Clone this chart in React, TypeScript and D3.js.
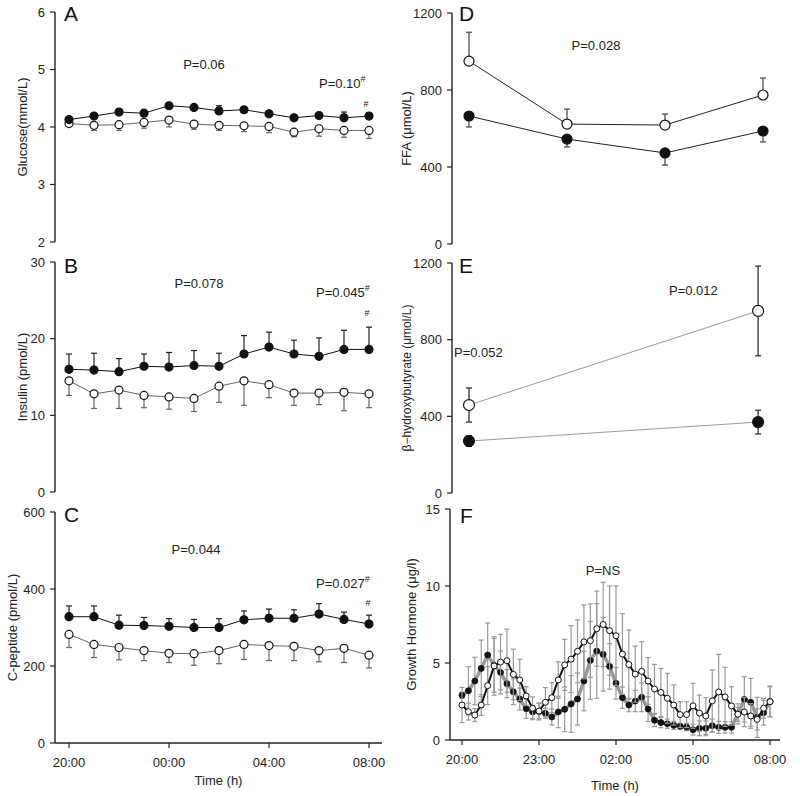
import * as d3 from 'd3';

const FONT = 'Arial, "Liberation Sans", sans-serif';

// hourly samples, 20:00 .. 08:00 (hours after 20:00)
const hourly = [0, 1, 2, 3, 4, 5, 6, 7, 8, 9, 10, 11, 12];
const hourlyTicks = [0, 4, 8, 12];
const hourlyLabels = ['20:00', '00:00', '04:00', '08:00'];

const glucoseFilled = [4.13, 4.19, 4.26, 4.24, 4.37, 4.34, 4.28, 4.3, 4.23, 4.16, 4.2, 4.16, 4.19];
const glucoseFilledErr = [0.03, 0.03, 0.04, 0.04, 0.04, 0.05, 0.09, 0.05, 0.05, 0.05, 0.05, 0.1, 0.05];
const glucoseOpen = [4.06, 4.03, 4.04, 4.08, 4.12, 4.05, 4.03, 4.02, 4.01, 3.91, 3.97, 3.94, 3.94];
const glucoseOpenErr = [0.03, 0.09, 0.1, 0.1, 0.12, 0.09, 0.09, 0.1, 0.11, 0.08, 0.13, 0.12, 0.14];

const insulinFilled = [16.0, 15.9, 15.7, 16.4, 16.3, 16.5, 16.4, 18.0, 18.9, 18.0, 17.7, 18.6, 18.6];
const insulinFilledErr = [2.0, 2.2, 1.7, 1.6, 1.9, 1.95, 1.7, 2.4, 1.95, 1.8, 2.4, 2.5, 2.9];
const insulinOpen = [14.5, 12.8, 13.3, 12.6, 12.4, 12.2, 13.8, 14.5, 14.0, 12.9, 12.9, 13.0, 12.8];
const insulinOpenErr = [1.9, 1.9, 2.4, 1.6, 1.6, 1.7, 2.1, 3.2, 1.7, 1.6, 1.5, 2.4, 1.8];

const cpepFilled = [328, 328, 306, 305, 303, 300, 300, 320, 324, 324, 335, 321, 309];
const cpepFilledErr = [28, 28, 26, 21, 20, 21, 23, 23, 24, 22, 27, 19, 23];
const cpepOpen = [282, 256, 248, 240, 233, 232, 240, 256, 253, 251, 240, 246, 228];
const cpepOpenErr = [34, 34, 32, 26, 24, 30, 34, 39, 39, 37, 29, 37, 33];

const ffaTimes = [0, 4, 8, 12];
const ffaOpen = [950, 623, 618, 774];
const ffaOpenErr = [150, 78, 57, 88];
const ffaFilled = [665, 545, 473, 587];
const ffaFilledErr = [57, 41, 63, 57];

const bhbTimes = [0, 11.8];
const bhbOpen = [459, 950];
const bhbOpenErr = [89, 234];
const bhbFilled = [271, 370];
const bhbFilledErr = [28, 62];

// growth hormone, every 15 min
const ghTimes = d3.range(49).map((i) => i * 0.25);
const ghTicks = [0, 3, 6, 9, 12];
const ghLabels = ['20:00', '23:00', '02:00', '05:00', '08:00'];
const ghFilled = [
  2.9, 3.2, 3.83, 4.65, 5.52, 4.85, 4.39, 3.66, 3.14, 2.66, 2.03, 1.82, 1.85,
  1.73, 1.49, 1.82, 1.99, 2.34, 2.66, 3.83, 5.17, 5.78, 5.56, 4.78, 3.68,
  2.75, 2.27, 2.53, 2.77, 2.01, 1.28, 1.13, 1.06, 0.95, 0.89, 0.84, 0.67,
  0.76, 0.76, 0.93, 0.82, 0.82, 0.82, 1.7, 2.64, 2.45, 1.47, 1.77, 2.5,
];
const ghFilledErr = [
  0.2, 1.56, 1.54, 1.84, 2.08, 1.75, 1.39, 0.91, 0.84, 0.71, 0.63, 0.42, 0.55,
  0.33, 0.52, 1.02, 1.45, 1.84, 1.69, 1.93, 2.53, 3.08, 2.38, 1.48, 1.02,
  0.69, 0.43, 0.69, 0.93, 0.81, 0.41, 0.33, 0.3, 0.26, 0.18, 0.24, 0.35,
  0.48, 0.48, 0.43, 0.39, 0.37, 0.37, 0.65, 1.47, 1.55, 1.3, 0.8, 1.0,
];
const ghOpen = [
  2.27, 1.84, 1.62, 2.27, 3.53, 4.81, 5.06, 5.15, 4.26, 3.9, 2.86, 2.06, 1.88,
  2.45, 2.75, 3.9, 4.88, 5.25, 5.76, 6.37, 6.45, 7.23, 7.5, 7.1, 6.77,
  5.58, 4.9, 4.28, 4.46, 3.83, 3.31, 3.09, 2.71, 2.27, 1.65, 1.65, 2.22,
  1.75, 1.56, 2.54, 3.12, 2.8, 2.21, 1.67, 1.82, 1.56, 1.34, 2.06, 2.49,
];
const ghOpenErr = [
  1.14, 0.54, 0.42, 0.67, 1.23, 1.9, 1.8, 2.05, 1.64, 1.34, 0.6, 0.74, 0.5,
  0.95, 0.97, 1.18, 1.66, 2.17, 2.04, 2.4, 2.38, 2.44, 2.74, 2.9, 3.23,
  2.62, 2.24, 1.82, 1.92, 1.52, 1.6, 1.56, 1.62, 1.3, 0.84, 0.84, 1.46,
  1.17, 1.19, 2.01, 2.44, 1.92, 1.25, 0.45, 0.95, 0.8, 0.69, 0.64, 0.97,
];

const AXIS = '#222';

function YAxis({ scale, ticks, x, label, labelX, fontSize = 13 }: any) {
  const [d0, d1] = scale.domain();
  return (
    <g>
      <line x1={x} x2={x} y1={scale(d0)} y2={scale(d1)} stroke={AXIS} strokeWidth={1.4} />
      {ticks.map((t: number) => (
        <g key={t}>
          <line x1={x - 5} x2={x} y1={scale(t)} y2={scale(t)} stroke={AXIS} strokeWidth={1.2} />
          <text x={x - 10} y={scale(t)} dy="0.35em" textAnchor="end" fontSize={13} fill="#222">
            {t}
          </text>
        </g>
      ))}
      <text
        transform={`translate(${labelX},${(scale(d0) + scale(d1)) / 2}) rotate(-90)`}
        textAnchor="middle"
        fontSize={fontSize}
        fill="#222"
      >
        {label}
      </text>
    </g>
  );
}

function XAxis({ scale, y, x0, x1, ticks, labels, labelY }: any) {
  return (
    <g>
      <line x1={x0} x2={x1} y1={y} y2={y} stroke={AXIS} strokeWidth={1.4} />
      {ticks.map((t: number, i: number) => (
        <g key={t}>
          <line x1={scale(t)} x2={scale(t)} y1={y} y2={y + 5} stroke={AXIS} strokeWidth={1.2} />
          <text x={scale(t)} y={y + 24} textAnchor="middle" fontSize={13} fill="#222">
            {labels[i]}
          </text>
        </g>
      ))}
      <text x={(x0 + x1) / 2} y={labelY} textAnchor="middle" fontSize={13} fill="#222">
        Time (h)
      </text>
    </g>
  );
}

function Series({ xs, ys, up, down, x, y, r, open, lineColor, lineWidth, errColor, cap = 3, dotStroke = 1.2 }: any) {
  const line = d3
    .line<number>()
    .x((_, i) => x(xs[i]))
    .y((d) => y(d));
  return (
    <g>
      {ys.map((v: number, i: number) => {
        const cx = x(xs[i]);
        const top = up ? y(v + up[i]) : y(v);
        const bot = down ? y(v - down[i]) : y(v);
        return (
          <g key={i} stroke={errColor} strokeWidth={1.2}>
            <line x1={cx} x2={cx} y1={top} y2={bot} />
            {up && <line x1={cx - cap} x2={cx + cap} y1={top} y2={top} />}
            {down && <line x1={cx - cap} x2={cx + cap} y1={bot} y2={bot} />}
          </g>
        );
      })}
      <path d={line(ys) || ''} fill="none" stroke={lineColor} strokeWidth={lineWidth} strokeLinejoin="round" />
      {ys.map((v: number, i: number) => (
        <circle
          key={i}
          cx={x(xs[i])}
          cy={y(v)}
          r={r}
          fill={open ? '#fff' : '#111'}
          stroke="#111"
          strokeWidth={dotStroke}
        />
      ))}
    </g>
  );
}

function Letter({ x, y, c }: any) {
  return (
    <text x={x} y={y} fontSize={21} fill="#111">
      {c}
    </text>
  );
}

function PText({ x, y, text, sup, anchor = 'start' }: any) {
  return (
    <text x={x} y={y} fontSize={13} fill="#222" textAnchor={anchor}>
      {text}
      {sup && (
        <tspan fontSize={9} dy={-6}>
          {sup}
        </tspan>
      )}
    </text>
  );
}

export default function App() {
  const xL = d3.scaleLinear().domain([0, 12]).range([69, 369]);
  const xR = d3.scaleLinear().domain([0, 12]).range([469, 763]);
  const xF = d3.scaleLinear().domain([0, 12]).range([462, 770]);

  const yA = d3.scaleLinear().domain([2, 6]).range([242, 12]);
  const yB = d3.scaleLinear().domain([0, 30]).range([492, 262]);
  const yC = d3.scaleLinear().domain([0, 600]).range([743, 512]);
  const yD = d3.scaleLinear().domain([0, 1200]).range([244, 13]);
  const yE = d3.scaleLinear().domain([0, 1200]).range([493, 263]);
  const yF = d3.scaleLinear().domain([0, 15]).range([740, 509]);

  const leftSeries = (scale: any, f: number[], fe: number[], o: number[], oe: number[]) => (
    <g>
      <Series xs={hourly} ys={o} down={oe} x={xL} y={scale} r={4} open lineColor="#666" lineWidth={1} errColor="#666" />
      <Series xs={hourly} ys={f} up={fe} x={xL} y={scale} r={4} lineColor="#111" lineWidth={1} errColor="#222" />
    </g>
  );

  return (
    <div style={{ position: 'absolute', left: 0, top: 0 }}>
      <svg width={800} height={796} style={{ display: 'block', fontFamily: FONT }}>
        <rect width={800} height={796} fill="#fff" />

        {/* A */}
        <YAxis scale={yA} ticks={[2, 3, 4, 5, 6]} x={55} label="Glucose(mmol/L)" labelX={27} />
        <Letter x={64} y={21} c="A" />
        <PText x={204} y={69} text="P=0.06" anchor="middle" />
        <PText x={319} y={88} text="P=0.10" sup="#" />
        <text x={366} y={107} fontSize={9} textAnchor="middle" fill="#222">#</text>
        {leftSeries(yA, glucoseFilled, glucoseFilledErr, glucoseOpen, glucoseOpenErr)}

        {/* B */}
        <YAxis scale={yB} ticks={[0, 10, 20, 30]} x={55} label="Insulin (pmol/L)" labelX={27} />
        <Letter x={64} y={273} c="B" />
        <PText x={199} y={288} text="P=0.078" anchor="middle" />
        <PText x={316} y={297} text="P=0.045" sup="#" />
        <text x={367} y={316} fontSize={9} textAnchor="middle" fill="#222">#</text>
        {leftSeries(yB, insulinFilled, insulinFilledErr, insulinOpen, insulinOpenErr)}

        {/* C */}
        <YAxis scale={yC} ticks={[0, 200, 400, 600]} x={55} label="C-peptide (pmol/L)" labelX={17} />
        <Letter x={64} y={522} c="C" />
        <PText x={196} y={554} text="P=0.044" anchor="middle" />
        <PText x={316} y={588} text="P=0.027" sup="#" />
        <text x={368} y={606} fontSize={9} textAnchor="middle" fill="#222">#</text>
        {leftSeries(yC, cpepFilled, cpepFilledErr, cpepOpen, cpepOpenErr)}
        <XAxis scale={xL} y={743} x0={55} x1={382} ticks={hourlyTicks} labels={hourlyLabels} labelY={785} />

        {/* D */}
        <YAxis scale={yD} ticks={[0, 400, 800, 1200]} x={452} label="FFA  (μmol/L)" labelX={411} />
        <Letter x={459} y={21} c="D" />
        <PText x={596} y={50} text="P=0.028" anchor="middle" />
        <Series xs={ffaTimes} ys={ffaOpen} up={ffaOpenErr} x={xR} y={yD} r={5} open lineColor="#222" lineWidth={1} errColor="#444" />
        <Series xs={ffaTimes} ys={ffaFilled} down={ffaFilledErr} x={xR} y={yD} r={5} lineColor="#222" lineWidth={1} errColor="#444" />

        {/* E */}
        <YAxis scale={yE} ticks={[0, 400, 800, 1200]} x={452} label="β−hydroxybutyrate  (μmol/L)" labelX={411} fontSize={12} />
        <Letter x={459} y={273} c="E" />
        <PText x={454} y={357} text="P=0.052" />
        <PText x={669} y={295} text="P=0.012" />
        <Series xs={bhbTimes} ys={bhbOpen} up={bhbOpenErr} down={bhbOpenErr} x={xR} y={yE} r={5.5} open lineColor="#999" lineWidth={1} errColor="#222" />
        <Series xs={bhbTimes} ys={bhbFilled} up={bhbFilledErr} down={bhbFilledErr} x={xR} y={yE} r={5.5} lineColor="#999" lineWidth={1} errColor="#222" />

        {/* F */}
        <YAxis scale={yF} ticks={[0, 5, 10, 15]} x={450} label="Growth Hormone (μg/l)" labelX={416} />
        <Letter x={460} y={523} c="F" />
        <PText x={603} y={575} text="P=NS" anchor="middle" />
        <Series xs={ghTimes} ys={ghFilled} up={ghFilledErr} down={ghFilledErr} x={xF} y={yF} r={3} lineColor="#999" lineWidth={3.5} errColor="#999" cap={2.5} dotStroke={0.8} />
        <Series xs={ghTimes} ys={ghOpen} up={ghOpenErr} down={ghOpenErr} x={xF} y={yF} r={3} open lineColor="#111" lineWidth={2} errColor="#999" cap={2.5} dotStroke={1} />
        <XAxis scale={xF} y={740} x0={450} x1={780} ticks={ghTicks} labels={ghLabels} labelY={790} />
      </svg>
    </div>
  );
}
